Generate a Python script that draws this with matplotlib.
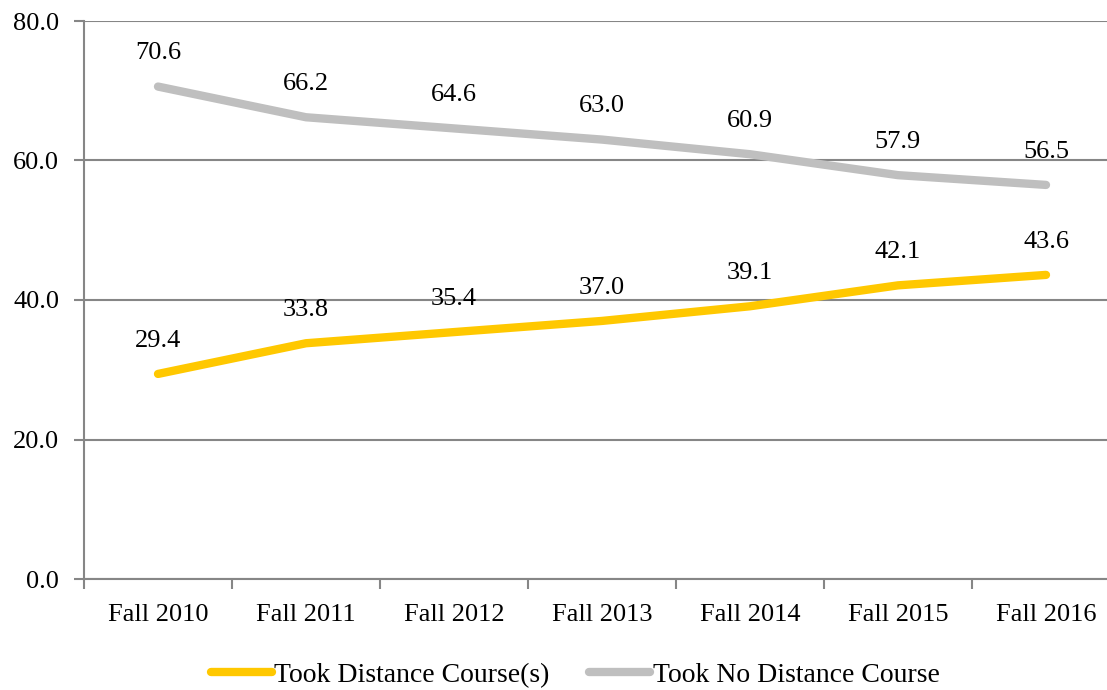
import matplotlib
matplotlib.use("Agg")
import matplotlib.pyplot as plt
from matplotlib.ticker import FixedLocator, NullFormatter

categories = ["Fall 2010", "Fall 2011", "Fall 2012", "Fall 2013", "Fall 2014", "Fall 2015", "Fall 2016"]
took_distance = [29.4, 33.8, 35.4, 37.0, 39.1, 42.1, 43.6]
no_distance = [70.6, 66.2, 64.6, 63.0, 60.9, 57.9, 56.5]
y_ticks = [0, 20, 40, 60, 80]

plt.rcParams['font.family'] = ['Liberation Serif', 'DejaVu Serif']
FS = 19

fig = plt.figure(figsize=(11.07, 6.9), dpi=100)
W, H = 1107, 690
left, right, top, bottom = 84, 1107, 21, 579
ax = fig.add_axes([left / W, 1 - bottom / H, (right - left) / W, (bottom - top) / H])

x = list(range(len(categories)))
l1, = ax.plot(x, took_distance, color="#FFC800", lw=6, solid_capstyle="round", label="Took Distance Course(s)", zorder=3)
l2, = ax.plot(x, no_distance, color="#BFBFBF", lw=6, solid_capstyle="round", label="Took No Distance Course", zorder=3)

for xi, v in zip(x, took_distance):
    ax.annotate(f"{v:.1f}", (xi, v), xytext=(0, 16), textcoords="offset points",
                ha="center", va="bottom", fontsize=FS, color="#000000")
for xi, v in zip(x, no_distance):
    ax.annotate(f"{v:.1f}", (xi, v), xytext=(0, 16), textcoords="offset points",
                ha="center", va="bottom", fontsize=FS, color="#000000")

spacing = 148.0
ax.set_xlim(-0.5, -0.5 + (right - left) / spacing)
ax.set_ylim(0, 80)
ax.set_yticks(y_ticks)
ax.set_yticklabels([f"{t:.1f}" for t in y_ticks], fontsize=FS)
ax.yaxis.grid(True, color="#868686", lw=1.5)
ax.set_axisbelow(True)

ax.set_xticks(x)
ax.set_xticklabels(categories, fontsize=FS)
ax.tick_params(axis="x", which="major", length=0, pad=18)
ax.xaxis.set_minor_locator(FixedLocator([i - 0.5 for i in range(len(categories) + 1)]))
ax.xaxis.set_minor_formatter(NullFormatter())
ax.tick_params(axis="x", which="minor", length=7, width=1.5, color="#868686", direction="out")
ax.tick_params(axis="y", length=7, width=1.5, color="#868686", pad=11, direction="out")

for s in ["top", "right"]:
    ax.spines[s].set_visible(False)
ax.spines["left"].set_color("#868686")
ax.spines["left"].set_linewidth(1.5)
ax.spines["bottom"].set_color("#868686")
ax.spines["bottom"].set_linewidth(1.5)

leg = fig.legend(handles=[l1, l2], loc="center", bbox_to_anchor=(575 / W, 1 - 675 / H), ncol=2,
                 frameon=False, fontsize=20, handlelength=2.2, handletextpad=0.1, columnspacing=1.4)

fig.savefig("out.png", dpi=100)
